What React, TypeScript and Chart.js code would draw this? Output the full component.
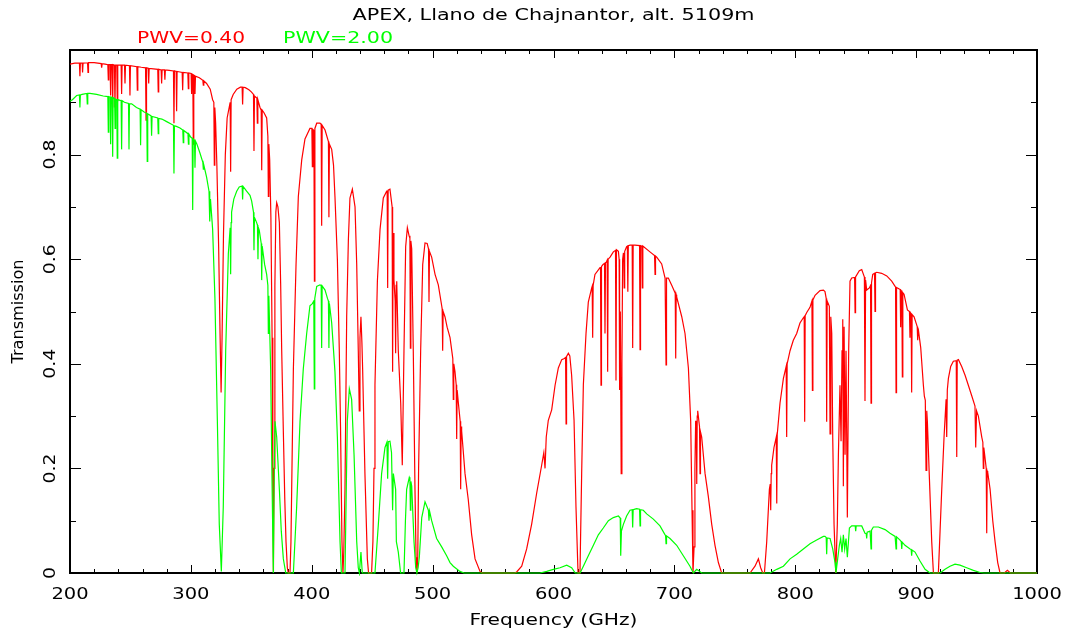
import React, { useEffect, useRef } from 'react';
import { Chart, registerables } from 'chart.js';

Chart.register(...registerables);

const titleText = 'APEX, Llano de Chajnantor, alt. 5109m';
const seriesLabels = ['PWV=0.40', 'PWV=2.00'];
const xTitle = 'Frequency (GHz)';
const yTitle = 'Transmission';
const xTickValues = [200, 300, 400, 500, 600, 700, 800, 900, 1000];
const xTickLabels = ['200', '300', '400', '500', '600', '700', '800', '900', '1000'];
const yTickValues = [0, 0.2, 0.4, 0.6, 0.8];
const yTickLabels = ['0', '0.2', '0.4', '0.6', '0.8'];
const xMinorStep = 20;
const yMinorStep = 0.1;

// Transmission for PWV = 0.40 mm : [frequency GHz, transmission]
const red04: [number, number][] = [
  [200,0.973],[204,0.975],[207.8,0.975],[208.2,0.95],[208.6,0.975],[210.1,0.975],[210.4,0.957],[210.8,0.975],[214.5,0.976],[214.9,0.957],[215.3,0.976],[220,0.976],[225.8,0.974],[226.2,0.966],[226.6,0.974],[229,0.973],[231.3,0.972],[231.7,0.943],[232.1,0.972],[233.2,0.972],[233.6,0.913],[234,0.972],[234.9,0.972],[235.3,0.89],[235.7,0.972],[236.8,0.971],[237.2,0.89],[237.6,0.971],[238.7,0.971],[239.1,0.903],[239.5,0.971],[242.3,0.971],[242.7,0.916],[243.1,0.971],[245.1,0.971],[245.5,0.936],[245.9,0.971],[249.2,0.97],[249.6,0.913],[250,0.97],[255.3,0.968],[255.7,0.923],[256.1,0.968],[259,0.967],[262.5,0.966],[262.9,0.866],[263.3,0.966],[264.7,0.965],[265.1,0.936],[265.5,0.965],[269,0.964],[272.6,0.963],[273,0.92],[273.4,0.963],[275.4,0.962],[275.8,0.936],[276.2,0.962],[278.1,0.962],[278.5,0.943],[278.9,0.962],[282,0.961],[285.6,0.96],[286,0.86],[286.4,0.96],[287.8,0.959],[288.2,0.883],[288.6,0.959],[291,0.958],[292.8,0.957],[293.2,0.923],[293.6,0.957],[297.5,0.956],[297.9,0.926],[298.3,0.956],[300.2,0.955],[300.6,0.916],[301,0.954],[301.6,0.953],[302,0.82],[302.4,0.952],[303,0.951],[303.4,0.916],[303.8,0.95],[307,0.947],[309.9,0.942],[310.3,0.933],[310.7,0.941],[313,0.936],[316,0.925],[318,0.905],[319,0.9],[319.4,0.78],[319.8,0.89],[320.5,0.86],[321.5,0.78],[323,0.62],[324.2,0.45],[325,0.345],[325.8,0.45],[327,0.65],[328.5,0.8],[330,0.87],[332.5,0.9],[332.9,0.767],[333.3,0.905],[335,0.915],[338,0.925],[341,0.929],[342.4,0.929],[342.8,0.896],[343.2,0.929],[345,0.928],[348,0.924],[350,0.92],[351.8,0.915],[352.2,0.807],[352.6,0.912],[354.6,0.908],[355,0.86],[355.4,0.905],[357.2,0.89],[358.2,0.885],[358.6,0.77],[359,0.885],[360.5,0.88],[362.7,0.87],[363.7,0.835],[364.1,0.72],[364.5,0.82],[365.2,0.79],[366.2,0.68],[367.2,0.45],[367.8,0.15],[368.3,0.003],[368.8,0.2],[369.5,0.55],[370.3,0.69],[371,0.708],[372,0.7],[373.2,0.67],[374.3,0.55],[375.1,0.43],[376.5,0.27],[377.7,0.14],[378.7,0.06],[379.8,0.01],[380.6,0],[382,0],[382.8,0.06],[383.4,0.16],[384.8,0.39],[386,0.5],[387,0.59],[388.9,0.72],[391.7,0.79],[394.4,0.83],[398.5,0.85],[400.1,0.85],[400.5,0.777],[400.9,0.848],[401.8,0.846],[402.2,0.558],[402.6,0.85],[404.1,0.86],[406.8,0.86],[407.8,0.858],[408.2,0.664],[408.6,0.856],[411,0.847],[413.8,0.825],[414.2,0.68],[414.6,0.82],[416.5,0.81],[418,0.78],[419.2,0.72],[421.2,0.6],[422.8,0.425],[423.8,0.28],[425,0.06],[425.8,0],[426.5,0.04],[427.5,0.16],[428.9,0.49],[430.3,0.637],[431.6,0.717],[433.6,0.734],[435.8,0.7],[437.2,0.59],[438.5,0.425],[439.3,0.31],[439.9,0.45],[440.7,0.49],[441.5,0.44],[442.1,0.39],[444,0.19],[446,0.027],[447,0],[449.5,0],[450.6,0.06],[451.5,0.2],[452.3,0.36],[454.3,0.558],[456.5,0.657],[459.2,0.717],[462,0.73],[462.4,0.73],[462.8,0.545],[463.2,0.732],[464.7,0.734],[466.5,0.7],[466.9,0.385],[467.3,0.65],[468,0.56],[469,0.52],[469.4,0.42],[469.8,0.55],[470.3,0.558],[471.6,0.425],[473.6,0.325],[474.9,0.206],[476.3,0.425],[477.7,0.624],[479.1,0.66],[480.5,0.645],[481.2,0.64],[481.6,0.43],[482,0.635],[482.7,0.62],[484,0.425],[485.4,0.16],[486.3,0.03],[487,0],[487.7,0.03],[488.4,0.2],[490.1,0.425],[491.8,0.59],[493.7,0.631],[495.5,0.63],[496.6,0.62],[497,0.518],[497.4,0.615],[499.2,0.604],[502,0.571],[504.7,0.551],[507.5,0.511],[507.9,0.505],[508.3,0.425],[508.7,0.5],[510.2,0.49],[512,0.47],[514.4,0.45],[516.7,0.41],[517.1,0.332],[517.5,0.4],[518.5,0.385],[519.5,0.36],[519.9,0.256],[520.3,0.35],[521.3,0.325],[522.8,0.29],[523.2,0.16],[523.6,0.28],[524,0.272],[526.8,0.19],[529.5,0.14],[532.3,0.073],[535.1,0.027],[539.2,0.003],[541,0],[568,0],[569.5,0.002],[573.7,0.013],[577.8,0.046],[581.9,0.093],[586.1,0.153],[590.2,0.206],[592,0.23],[593,0.2],[594,0.26],[595.7,0.292],[598.5,0.312],[601.3,0.359],[604,0.392],[606.8,0.408],[609,0.41],[610,0.412],[610.4,0.285],[610.8,0.414],[612.3,0.42],[613.5,0.415],[615,0.378],[617,0.292],[618.6,0.126],[620.3,0],[621.9,0],[623.3,0.19],[624.7,0.36],[626.9,0.458],[628.8,0.518],[631.6,0.545],[632,0.548],[632.4,0.45],[632.8,0.55],[634.3,0.571],[638.5,0.584],[638.9,0.585],[639.3,0.359],[639.7,0.586],[641,0.59],[642.2,0.592],[642.6,0.458],[643,0.593],[643.8,0.595],[644.4,0.598],[644.8,0.385],[645.2,0.6],[646.8,0.604],[649.5,0.614],[651.3,0.617],[651.7,0.368],[652.1,0.618],[653.7,0.615],[654.3,0.6],[654.7,0.35],[655.3,0.5],[656,0.19],[656.6,0.4],[657.2,0.6],[657.8,0.611],[658.1,0.612],[658.5,0.545],[658.9,0.615],[660.5,0.624],[661.1,0.625],[661.5,0.538],[661.9,0.626],[663.3,0.627],[665.1,0.627],[665.5,0.43],[665.9,0.627],[667.4,0.627],[671.2,0.626],[671.6,0.427],[672,0.626],[673.1,0.625],[673.5,0.545],[673.9,0.625],[679.8,0.614],[683.6,0.607],[684,0.571],[684.4,0.606],[685.4,0.604],[689.5,0.591],[692.3,0.564],[692.7,0.564],[693.1,0.398],[693.5,0.564],[695,0.564],[697.8,0.55],[700.7,0.535],[701.1,0.41],[701.5,0.532],[701.9,0.528],[706.1,0.49],[708.8,0.458],[711.6,0.392],[713.5,0.29],[714.6,0.12],[715.4,0],[716.3,0.05],[717,0.2],[717.6,0.29],[718.1,0.29],[718.5,0.17],[718.9,0.3],[719.3,0.31],[720.8,0.28],[721.2,0.19],[721.6,0.27],[722.6,0.26],[725.4,0.19],[728.1,0.146],[730.9,0.093],[733.6,0.053],[736.4,0.02],[739.1,0],[762.6,0],[766.7,0.013],[769.5,0.027],[771.4,0.01],[773.1,0],[774.5,0],[776.4,0.06],[778.6,0.16],[779.3,0.17],[779.7,0.12],[780.1,0.19],[780.5,0.206],[782.4,0.24],[784.3,0.26],[784.7,0.133],[785.1,0.265],[787.4,0.325],[790.2,0.372],[792.5,0.395],[792.9,0.26],[793.3,0.4],[795.7,0.425],[798.4,0.445],[801.2,0.458],[803.9,0.478],[806.7,0.488],[807.4,0.49],[807.8,0.289],[808.2,0.492],[809.5,0.498],[812.2,0.508],[813.8,0.52],[814.2,0.349],[814.6,0.522],[816.4,0.531],[820.5,0.54],[823.3,0.541],[824.6,0.538],[825.6,0.525],[826,0.289],[826.4,0.52],[828.2,0.51],[828.8,0.266],[829.4,0.49],[830.2,0.458],[831,0.26],[832.1,0.093],[833.5,0],[834.8,0.093],[835.7,0.226],[837,0.359],[837.9,0.252],[838.7,0.425],[839.3,0.485],[839.8,0.166],[840.4,0.471],[841.2,0.226],[842,0.425],[843.1,0.106],[844.2,0.425],[845.3,0.558],[846.7,0.564],[849.1,0.565],[849.5,0.498],[849.9,0.566],[853,0.578],[855,0.58],[857.2,0.566],[857.7,0.329],[858.2,0.56],[859.1,0.541],[861.3,0.545],[862.3,0.55],[862.7,0.325],[863.1,0.555],[864.1,0.571],[865.6,0.573],[866,0.5],[866.4,0.574],[867.4,0.575],[871.5,0.573],[875.7,0.568],[879.8,0.558],[882.6,0.548],[883,0.547],[883.4,0.345],[883.8,0.546],[885.3,0.544],[886.8,0.542],[887.2,0.47],[887.6,0.54],[888.2,0.538],[888.6,0.375],[889,0.536],[890,0.533],[892.8,0.503],[894.5,0.5],[894.9,0.45],[895.3,0.498],[895.9,0.496],[896.3,0.345],[896.7,0.494],[898.3,0.49],[900.9,0.471],[901.3,0.445],[901.7,0.468],[903.8,0.431],[906,0.359],[906.8,0.338],[907.6,0.33],[908.2,0.196],[908.8,0.31],[909.3,0.29],[911,0.18],[912.9,0.06],[914.3,0],[918.4,0],[919.8,0.08],[921.2,0.16],[923.1,0.26],[924.8,0.332],[925.3,0.26],[925.8,0.35],[926.7,0.372],[928.6,0.395],[930.8,0.405],[933.2,0.406],[933.6,0.222],[934,0.407],[935,0.408],[937.7,0.395],[940.5,0.378],[943.2,0.359],[946,0.339],[948.7,0.319],[949.3,0.24],[950,0.31],[951.5,0.3],[954.3,0.26],[955.2,0.25],[955.6,0.2],[956,0.24],[957,0.22],[958,0.2],[958.4,0.076],[958.8,0.195],[959.2,0.193],[961.2,0.16],[963.4,0.1],[965.3,0.06],[967.5,0.02],[969.4,0],[973,0],[975.5,0.005],[978,0],[1000,0],
];

// Transmission for PWV = 2.00 mm : [frequency GHz, transmission]
const green20: [number, number][] = [
  [200,0.902],[202,0.905],[205.5,0.913],[207.8,0.914],[208.2,0.89],[208.6,0.914],[210,0.915],[213.9,0.917],[214.3,0.897],[214.7,0.917],[216.5,0.917],[222,0.915],[227.5,0.912],[231.3,0.911],[231.7,0.843],[232.1,0.911],[233.2,0.91],[233.6,0.82],[234,0.91],[234.9,0.909],[235.3,0.796],[235.7,0.909],[236.9,0.907],[237.3,0.85],[237.7,0.906],[238.7,0.905],[239.1,0.793],[239.5,0.905],[242.3,0.903],[242.7,0.81],[243.1,0.903],[245,0.9],[248.4,0.898],[248.8,0.81],[249.2,0.897],[251,0.897],[255,0.89],[258,0.887],[258.4,0.818],[258.8,0.886],[261,0.882],[263.5,0.879],[263.9,0.787],[264.3,0.878],[267.1,0.874],[267.5,0.836],[267.9,0.873],[272.6,0.87],[273,0.84],[273.4,0.869],[276,0.868],[280,0.863],[284,0.858],[285.6,0.856],[286,0.764],[286.4,0.855],[288,0.854],[291,0.851],[293.3,0.847],[293.7,0.823],[294.1,0.846],[297.6,0.84],[298,0.82],[298.4,0.839],[300,0.833],[301.1,0.831],[301.5,0.694],[301.9,0.83],[303,0.827],[303.4,0.775],[303.8,0.826],[305,0.82],[307.5,0.803],[309.9,0.785],[310.3,0.772],[310.7,0.78],[313,0.757],[315,0.73],[315.4,0.725],[315.8,0.672],[316.2,0.715],[318,0.657],[319.9,0.525],[321.9,0.292],[323.5,0.093],[325.2,0.003],[326.8,0.126],[328.8,0.425],[331,0.611],[332.5,0.66],[332.9,0.571],[333.3,0.67],[333.7,0.69],[335.5,0.715],[337.9,0.73],[340,0.738],[342.4,0.74],[342.8,0.714],[343.2,0.739],[346.1,0.73],[348.9,0.722],[350.3,0.711],[351.8,0.69],[352.2,0.617],[352.6,0.68],[354.4,0.67],[355.1,0.665],[355.5,0.6],[355.9,0.66],[356.6,0.655],[358.2,0.63],[358.6,0.56],[359,0.625],[361,0.59],[362.7,0.571],[363.7,0.55],[364.1,0.458],[364.5,0.53],[366,0.39],[367,0.2],[368.2,0],[369,0.2],[369.6,0.29],[371,0.26],[373.2,0.16],[374.8,0.08],[376.5,0.027],[378.5,0],[384.8,0],[387.5,0.126],[390.3,0.29],[393,0.39],[395.8,0.458],[398.5,0.511],[400.5,0.515],[401.7,0.52],[402.1,0.352],[402.5,0.525],[404.1,0.548],[406.8,0.551],[407.8,0.55],[408.2,0.43],[408.6,0.549],[411,0.541],[413,0.525],[413.8,0.52],[414.2,0.43],[414.6,0.515],[416.5,0.478],[419.2,0.385],[421.2,0.26],[423.4,0.06],[424.5,0],[427.5,0],[428.5,0.15],[429.4,0.29],[431.1,0.352],[433,0.332],[435,0.226],[437.2,0.06],[438.5,0.01],[439.4,0],[440.7,0.04],[441.8,0],[452.3,0],[455.1,0.093],[457.8,0.19],[460.6,0.24],[462.2,0.25],[462.8,0.18],[463.3,0.251],[464.7,0.252],[466,0.23],[466.9,0.12],[467.5,0.19],[469.4,0.16],[470,0.06],[471.6,0.04],[473.5,0],[476.3,0],[477.5,0.1],[478.5,0.16],[480.7,0.183],[481.2,0.18],[481.6,0.12],[482,0.175],[482.7,0.166],[484.6,0.06],[486,0.01],[487,0],[488,0.01],[489,0.03],[491,0.106],[493.7,0.136],[496.5,0.12],[497,0.1],[497.5,0.118],[499.2,0.1],[503.3,0.066],[507.5,0.05],[511.6,0.033],[514.4,0.02],[517.1,0.013],[522.6,0.003],[526,0],[588.8,0],[594.4,0.003],[599.9,0.007],[605.4,0.01],[610.9,0.015],[615,0.01],[618,0],[622,0],[624.7,0.013],[628.8,0.033],[633,0.053],[637.1,0.073],[641.2,0.086],[645.4,0.1],[649.5,0.106],[653.7,0.109],[655.2,0.105],[655.6,0.033],[656.2,0.08],[657.8,0.093],[660.5,0.109],[663.3,0.12],[665.1,0.121],[665.5,0.087],[665.9,0.121],[667.4,0.122],[668.8,0.123],[671.2,0.122],[671.6,0.09],[672,0.121],[674.3,0.12],[677.1,0.113],[682.6,0.103],[688.1,0.09],[692.3,0.073],[692.7,0.072],[693.1,0.056],[693.5,0.071],[696.4,0.066],[701.9,0.053],[707.4,0.033],[712.9,0.013],[715.7,0],[718.5,0.007],[722.6,0],[779.1,0],[784.7,0.007],[790.2,0.013],[795.7,0.027],[801.2,0.036],[806.7,0.046],[812.2,0.056],[817.7,0.063],[823.3,0.07],[824.6,0.07],[825.6,0.068],[826,0.036],[826.4,0.067],[828.8,0.066],[831,0.046],[832.9,0.02],[833.7,0],[835.1,0.027],[836.5,0.053],[837.6,0.066],[838.7,0.04],[839.8,0.073],[840.9,0.046],[842,0.066],[843.1,0.03],[844.8,0.086],[846.7,0.09],[849.6,0.09],[850,0.08],[850.4,0.09],[855,0.09],[857.7,0.076],[858.7,0.075],[859.1,0.066],[859.5,0.078],[861.9,0.08],[862.3,0.08],[862.7,0.046],[863.1,0.082],[864.6,0.088],[868.8,0.088],[874.3,0.083],[878.4,0.076],[882.6,0.07],[883,0.07],[883.4,0.046],[883.8,0.069],[886.7,0.063],[887.7,0.06],[888.1,0.046],[888.5,0.059],[890.8,0.053],[895,0.046],[895.9,0.045],[896.3,0.033],[896.7,0.044],[899.1,0.04],[903.2,0.023],[907.4,0.007],[911.5,0],[919.8,0],[923.9,0.007],[928,0.013],[932.2,0.017],[936.3,0.015],[941.8,0.01],[947.4,0.005],[952.9,0.001],[956,0],[1000,0],
];

const RED = '#ff0000';
const GREEN = '#00ff00';
const FONT = '"DejaVu Sans", "Liberation Sans", sans-serif';

function fittedText(
  ctx: CanvasRenderingContext2D,
  text: string,
  x: number,
  y: number,
  size: number,
  width: number,
  align: CanvasTextAlign,
  color: string,
  rotate = false,
) {
  ctx.save();
  ctx.font = `${size}px ${FONT}`;
  const w = ctx.measureText(text).width || 1;
  ctx.translate(x, y);
  if (rotate) ctx.rotate(-Math.PI / 2);
  ctx.scale(width / w, 1);
  ctx.fillStyle = color;
  ctx.textAlign = align;
  ctx.textBaseline = 'alphabetic';
  ctx.fillText(text, 0, 0);
  ctx.restore();
}

const pgplotPlugin = {
  id: 'pgplotFrame',
  beforeDatasetsDraw(chart: any) {
    const { ctx, chartArea: a, scales } = chart;
    const xs = scales.x;
    const ys = scales.y;
    ctx.save();
    ctx.strokeStyle = '#000';
    ctx.lineWidth = 1;
    // minor & major ticks, x axis (bottom and top, inward)
    const xMin = xTickValues[0];
    const xMax = xTickValues[xTickValues.length - 1];
    ctx.beginPath();
    for (let f = xMin; f <= xMax + 0.001; f += xMinorStep) {
      const px = Math.round(xs.getPixelForValue(f)) + 0.5;
      const major = xTickValues.includes(Math.round(f));
      const len = major ? 8 : 4;
      ctx.moveTo(px, a.bottom);
      ctx.lineTo(px, a.bottom - len);
      ctx.moveTo(px, a.top);
      ctx.lineTo(px, a.top + len);
    }
    for (let v = 0; v <= 1.0001; v += yMinorStep) {
      const py = Math.round(ys.getPixelForValue(v)) + 0.5;
      const major = Math.round(v * 10) % 2 === 0;
      const len = major ? 11 : 6;
      ctx.moveTo(a.left, py);
      ctx.lineTo(a.left + len, py);
      ctx.moveTo(a.right, py);
      ctx.lineTo(a.right - len, py);
    }
    ctx.stroke();
    ctx.lineWidth = 2;
    ctx.strokeRect(a.left, a.top, a.right - a.left, a.bottom - a.top);
    ctx.restore();
  },
  afterDraw(chart: any) {
    const { ctx, chartArea: a, scales } = chart;
    const xs = scales.x;
    const ys = scales.y;
    const midX = (a.left + a.right) / 2;
    // title
    fittedText(ctx, titleText, midX, 20, 16, 402, 'center', '#000');
    // legend-like labels
    fittedText(ctx, seriesLabels[0], 137, 43, 16, 108, 'left', RED);
    fittedText(ctx, seriesLabels[1], 283, 43, 16, 110, 'left', GREEN);
    // x tick labels
    xTickValues.forEach((v, i) => {
      const lbl = xTickLabels[i];
      fittedText(ctx, lbl, xs.getPixelForValue(v), 599, 16, lbl.length * 12.4, 'center', '#000');
    });
    // y tick labels (rotated)
    yTickValues.forEach((v, i) => {
      const lbl = yTickLabels[i];
      const w = lbl.length === 1 ? 12 : 30;
      fittedText(ctx, lbl, 55, ys.getPixelForValue(v), 16, w, 'center', '#000', true);
    });
    // axis titles
    fittedText(ctx, xTitle, midX, 625, 16, 168, 'center', '#000');
    fittedText(ctx, yTitle, 23, (a.top + a.bottom) / 2, 16, 104, 'center', '#000', true);
  },
};

export default function App() {
  const canvasRef = useRef<HTMLCanvasElement | null>(null);

  useEffect(() => {
    const canvas = canvasRef.current;
    if (!canvas) return;
    const chart = new Chart(canvas, {
      type: 'scatter',
      data: {
        datasets: [
          {
            label: seriesLabels[1],
            data: green20.map(([x, y]) => ({ x, y })),
            showLine: true,
            borderColor: GREEN,
            backgroundColor: GREEN,
            borderWidth: 1.2,
            pointRadius: 0,
            tension: 0,
            clip: 3,
          },
          {
            label: seriesLabels[0],
            data: red04.map(([x, y]) => ({ x, y })),
            showLine: true,
            borderColor: RED,
            backgroundColor: RED,
            borderWidth: 1.2,
            pointRadius: 0,
            tension: 0,
            clip: 3,
          },
        ],
      },
      options: {
        responsive: false,
        animation: false,
        events: [],
        layout: { padding: { left: 70, right: 31, top: 50, bottom: 56 } },
        plugins: {
          legend: { display: false },
          tooltip: { enabled: false },
          title: { display: false },
        },
        scales: {
          x: { type: 'linear', min: 200, max: 1000, display: false },
          y: { type: 'linear', min: 0, max: 1, display: false },
        },
      },
      plugins: [pgplotPlugin],
    });
    return () => chart.destroy();
  }, []);

  return (
    <div style={{ position: 'fixed', left: 0, top: 0, width: 1068, height: 629, background: '#fff' }}>
      <canvas ref={canvasRef} width={1068} height={629} style={{ display: 'block' }} />
    </div>
  );
}
